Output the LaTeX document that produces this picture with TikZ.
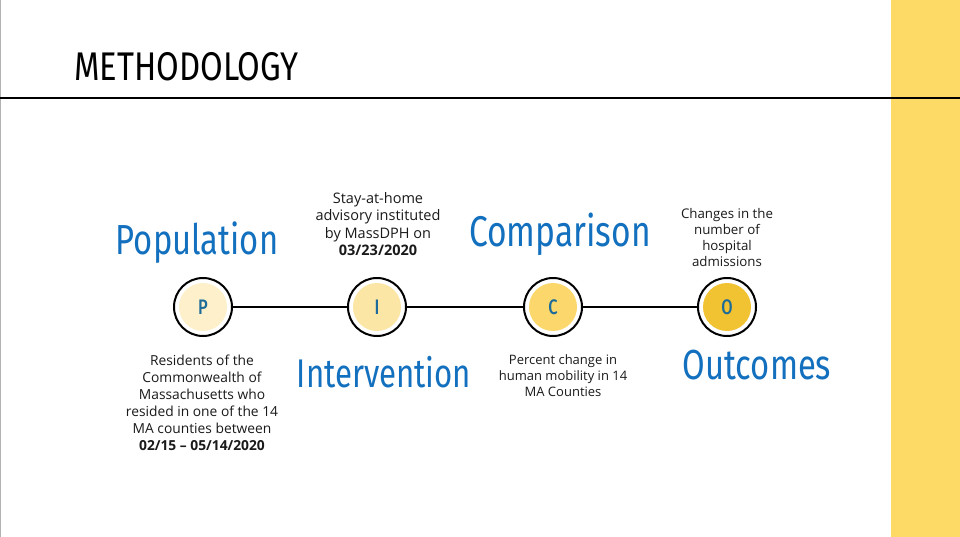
\documentclass[tikz,border=0pt]{standalone}
\usepackage{fontspec}
\setmainfont{Open Sans}
\newfontfamily\condfont{Fira Sans}[FakeStretch=0.78]
\newfontfamily\titlefont{Fira Sans}[FakeStretch=0.82]
\newfontfamily\condbold{Fira Sans Medium}[FakeStretch=0.78]
\definecolor{panelyellow}{HTML}{FDD966}
\definecolor{headblue}{HTML}{1270BE}
\definecolor{letterblue}{HTML}{1D6B98}
\definecolor{fillP}{HTML}{FDF0CB}
\definecolor{fillI}{HTML}{FCE6A6}
\definecolor{fillC}{HTML}{FCD86C}
\definecolor{fillO}{HTML}{F1C232}
\definecolor{bodytext}{HTML}{1A1A1A}
\tikzset{
  stage/.style={circle, draw=black, line width=2pt, fill=white, minimum size=58pt, inner sep=0pt},
  core/.style={circle, minimum size=48pt, inner sep=0pt, text=letterblue, font=\condbold\fontsize{21}{21}\selectfont},
  heading/.style={text=headblue, font=\condfont\fontsize{42}{42}\selectfont, inner sep=0pt},
  note/.style={align=center, text=bodytext, inner sep=0pt},
  link/.style={line width=2pt, draw=black}
}
\begin{document}
\begin{tikzpicture}[x=1pt, y=-1pt]
\useasboundingbox (0,0) rectangle (960,537);
\fill[white] (0,0) rectangle (960,537);
% side panel and frame
\fill[panelyellow] (891,0) rectangle (960,537);
\draw[gray!60, line width=1pt] (0.5,0) -- (0.5,537);
\draw[black, line width=2pt] (0,98) -- (960,98);
% title
\node[anchor=west, inner sep=0pt, font=\titlefont\fontsize{40}{40}\selectfont] (title) at (74,67) {METHODOLOGY};
% timeline circles
\node[stage] (p) at (203,307) {};
\node[stage] (i) at (377,307) {};
\node[stage] (c) at (553,307) {};
\node[stage] (o) at (727,307) {};
\node[core, fill=fillP] (pc) at (p) {P};
\node[core, fill=fillI] (ic) at (i) {I};
\node[core, fill=fillC] (cc) at (c) {C};
\node[core, fill=fillO] (oc) at (o) {O};
\draw[link] (p) -- (i);
\draw[link] (i) -- (c);
\draw[link] (c) -- (o);
% headings
\node[heading] (hp) at (197,243) {Population};
\node[heading, font=\condfont\fontsize{43}{43}\selectfont] (hc) at (560,234) {Comparison};
\node[heading, font=\condfont\fontsize{40}{40}\selectfont] (hi) at (384,372) {Intervention};
\node[heading] (ho) at (757,365) {Outcomes};
% descriptions
\node[note, font=\fontsize{14.5}{17.3}\selectfont] (ni) at (378,224)
  {Stay-at-home\\advisory instituted\\by MassDPH on\\\textbf{03/23/2020}};
\node[note, font=\fontsize{13.3}{16}\selectfont] (no) at (727,238)
  {Changes in the\\number of\\hospital\\admissions};
\node[note, font=\fontsize{13.8}{17}\selectfont] (np) at (202,403)
  {Residents of the\\Commonwealth of\\Massachusetts who\\resided in one of the 14\\MA counties between\\\textbf{02/15 -- 05/14/2020}};
\node[note, font=\fontsize{13}{16}\selectfont] (nc) at (563,376)
  {Percent change in\\human mobility in 14\\MA Counties};
\end{tikzpicture}
\end{document}
